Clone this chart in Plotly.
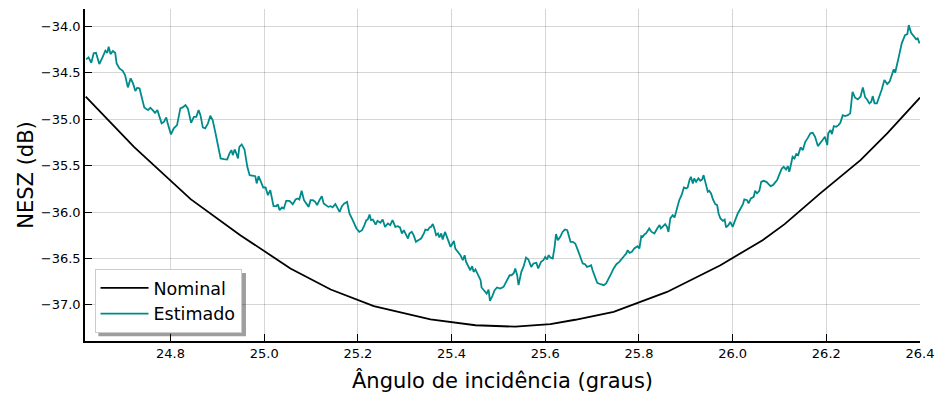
import plotly.graph_objects as go

# ---------------- data ----------------
nominal_angle = [24.619, 24.722, 24.843, 24.949, 25.056, 25.142, 25.234, 25.355,
                 25.451, 25.536, 25.611, 25.664, 25.746, 25.860, 25.974, 26.031,
                 26.064, 26.111, 26.187, 26.273, 26.330, 26.400]
nominal_nesz = [-34.755, -35.297, -35.861, -36.249, -36.608, -36.835, -37.015, -37.158,
                -37.220, -37.236, -37.209, -37.161, -37.076, -36.861, -36.573, -36.403,
                -36.303, -36.130, -35.799, -35.440, -35.152, -34.766]

estimado_angle = [
    24.620, 24.625, 24.631, 24.636, 24.641, 24.648, 24.656, 24.661, 24.665, 24.668,
    24.672, 24.677, 24.682, 24.685, 24.691, 24.698, 24.703, 24.709, 24.715, 24.720,
    24.725, 24.729, 24.734, 24.739, 24.744, 24.752, 24.757, 24.762, 24.767, 24.772,
    24.777, 24.781, 24.786, 24.791, 24.794, 24.801, 24.807, 24.814, 24.821, 24.826,
    24.832, 24.837, 24.844, 24.850, 24.855, 24.860, 24.864, 24.869, 24.874, 24.880,
    24.885, 24.890, 24.896, 24.901, 24.907, 24.914, 24.921, 24.926, 24.930, 24.933,
    24.937, 24.940, 24.944, 24.947, 24.952, 24.958, 24.964, 24.969, 24.976, 24.981,
    24.984, 24.988, 24.994, 24.998, 25.003, 25.008, 25.013, 25.017, 25.020, 25.026,
    25.029, 25.033, 25.038, 25.042, 25.047, 25.054, 25.061, 25.067, 25.072, 25.075,
    25.080, 25.085, 25.090, 25.095, 25.099, 25.104, 25.109, 25.113, 25.118, 25.123,
    25.127, 25.132, 25.137, 25.142, 25.146, 25.152, 25.156, 25.161, 25.166, 25.171,
    25.177, 25.182, 25.189, 25.197, 25.203, 25.209, 25.214, 25.218, 25.221, 25.225,
    25.228, 25.232, 25.238, 25.242, 25.248, 25.253, 25.258, 25.264, 25.269, 25.274,
    25.280, 25.285, 25.290, 25.294, 25.298, 25.303, 25.307, 25.310, 25.315, 25.319,
    25.324, 25.329, 25.335, 25.341, 25.344, 25.349, 25.353, 25.356, 25.360, 25.364,
    25.367, 25.371, 25.374, 25.378, 25.381, 25.386, 25.390, 25.393, 25.398, 25.402,
    25.405, 25.408, 25.413, 25.419, 25.424, 25.428, 25.431, 25.437, 25.440, 25.444,
    25.447, 25.451, 25.456, 25.462, 25.464, 25.470, 25.475, 25.479, 25.482, 25.487,
    25.492, 25.497, 25.504, 25.511, 25.519, 25.524, 25.528, 25.533, 25.536, 25.540,
    25.543, 25.549, 25.554, 25.559, 25.564, 25.570, 25.575, 25.581, 25.585, 25.591,
    25.596, 25.600, 25.604, 25.607, 25.611, 25.616, 25.620, 25.623, 25.627, 25.632,
    25.637, 25.642, 25.647, 25.650, 25.654, 25.659, 25.664, 25.669, 25.675, 25.680,
    25.685, 25.689, 25.694, 25.698, 25.701, 25.705, 25.711, 25.718, 25.725, 25.730,
    25.735, 25.741, 25.746, 25.752, 25.758, 25.763, 25.768, 25.773, 25.776, 25.780,
    25.785, 25.790, 25.794, 25.797, 25.801, 25.805, 25.808, 25.812, 25.815, 25.822,
    25.827, 25.833, 25.839, 25.844, 25.847, 25.851, 25.856, 25.860, 25.863, 25.867,
    25.872, 25.876, 25.879, 25.883, 25.886, 25.891, 25.896, 25.901, 25.904, 25.908,
    25.911, 25.915, 25.918, 25.922, 25.927, 25.931, 25.935, 25.938, 25.942, 25.947,
    25.950, 25.954, 25.958, 25.963, 25.967, 25.970, 25.974, 25.979, 25.983, 25.986,
    25.991, 25.995, 26.000, 26.005, 26.011, 26.017, 26.022, 26.025, 26.031, 26.034,
    26.039, 26.045, 26.048, 26.052, 26.057, 26.061, 26.066, 26.072, 26.076, 26.081,
    26.086, 26.091, 26.095, 26.100, 26.105, 26.109, 26.114, 26.118, 26.121, 26.125,
    26.128, 26.132, 26.136, 26.140, 26.145, 26.150, 26.155, 26.160, 26.166, 26.171,
    26.176, 26.182, 26.187, 26.192, 26.197, 26.202, 26.204, 26.209, 26.212, 26.216,
    26.221, 26.226, 26.230, 26.235, 26.240, 26.246, 26.251, 26.256, 26.261, 26.267,
    26.273, 26.278, 26.283, 26.287, 26.292, 26.296, 26.299, 26.303, 26.308, 26.313,
    26.318, 26.324, 26.330, 26.335, 26.340, 26.344, 26.347, 26.352, 26.356, 26.361,
    26.365, 26.368, 26.373, 26.376, 26.381, 26.387, 26.392, 26.395, 26.399,
]
estimado_nesz = [
    -34.354, -34.332, -34.390, -34.289, -34.283, -34.405, -34.318, -34.261, -34.283, -34.218,
    -34.297, -34.264, -34.283, -34.397, -34.451, -34.477, -34.523, -34.656, -34.559, -34.613,
    -34.696, -34.660, -34.667, -34.775, -34.872, -34.901, -34.876, -34.901, -34.930, -34.901,
    -34.990, -35.044, -35.027, -34.979, -35.044, -35.163, -35.098, -35.063, -34.882, -34.872,
    -34.847, -34.882, -35.038, -34.973, -34.973, -34.901, -34.955, -35.087, -35.098, -35.044,
    -34.962, -35.009, -35.146, -35.260, -35.422, -35.429, -35.433, -35.368, -35.332, -35.386,
    -35.325, -35.361, -35.422, -35.297, -35.271, -35.325, -35.512, -35.602, -35.613, -35.613,
    -35.691, -35.613, -35.685, -35.735, -35.735, -35.818, -35.764, -35.853, -35.936, -35.936,
    -35.915, -35.979, -35.950, -35.961, -35.879, -35.879, -35.915, -35.864, -35.853, -35.864,
    -35.771, -35.872, -35.907, -35.944, -35.872, -35.872, -35.890, -35.925, -35.872, -35.828,
    -35.907, -35.925, -35.944, -35.936, -35.950, -35.915, -35.950, -35.998, -35.936, -35.907,
    -35.890, -36.015, -36.087, -36.177, -36.214, -36.195, -36.141, -36.087, -36.080, -36.026,
    -36.087, -36.080, -36.134, -36.095, -36.116, -36.080, -36.160, -36.123, -36.141, -36.087,
    -36.160, -36.152, -36.166, -36.231, -36.195, -36.238, -36.285, -36.231, -36.214, -36.249,
    -36.321, -36.303, -36.285, -36.231, -36.188, -36.195, -36.166, -36.160, -36.130, -36.188,
    -36.249, -36.231, -36.274, -36.231, -36.296, -36.214, -36.268, -36.314, -36.375, -36.339,
    -36.311, -36.393, -36.429, -36.465, -36.519, -36.465, -36.537, -36.598, -36.627, -36.583,
    -36.645, -36.619, -36.681, -36.734, -36.813, -36.850, -36.878, -36.835, -36.958, -36.907,
    -36.842, -36.813, -36.824, -36.807, -36.734, -36.681, -36.681, -36.656, -36.608, -36.681,
    -36.788, -36.645, -36.583, -36.490, -36.511, -36.591, -36.554, -36.548, -36.608, -36.537,
    -36.519, -36.483, -36.511, -36.465, -36.490, -36.500, -36.375, -36.238, -36.303, -36.267,
    -36.214, -36.188, -36.195, -36.260, -36.321, -36.321, -36.339, -36.403, -36.500, -36.554,
    -36.562, -36.591, -36.583, -36.573, -36.627, -36.681, -36.764, -36.778, -36.788, -36.770,
    -36.727, -36.662, -36.608, -36.562, -36.537, -36.500, -36.476, -36.446, -36.411, -36.440,
    -36.429, -36.393, -36.382, -36.368, -36.393, -36.260, -36.267, -36.238, -36.231, -36.177,
    -36.214, -36.231, -36.177, -36.141, -36.177, -36.152, -36.130, -36.160, -36.214, -36.069,
    -36.033, -36.058, -35.998, -35.925, -35.872, -35.818, -35.735, -35.745, -35.735, -35.656,
    -35.620, -35.691, -35.637, -35.674, -35.637, -35.663, -35.648, -35.602, -35.674, -35.782,
    -35.771, -35.799, -35.864, -35.915, -35.925, -36.015, -36.069, -36.095, -36.080, -36.166,
    -36.141, -36.106, -36.160, -36.095, -36.015, -35.961, -35.915, -35.864, -35.872, -35.907,
    -35.853, -35.836, -35.771, -35.799, -35.771, -35.674, -35.663, -35.674, -35.691, -35.720,
    -35.710, -35.685, -35.656, -35.591, -35.530, -35.512, -35.540, -35.505, -35.566, -35.476,
    -35.404, -35.422, -35.375, -35.386, -35.303, -35.332, -35.243, -35.206, -35.152, -35.146,
    -35.189, -35.289, -35.260, -35.224, -35.189, -35.278, -35.152, -35.116, -35.160, -35.073,
    -35.081, -35.063, -35.038, -34.955, -34.966, -34.955, -34.936, -34.703, -34.764, -34.786,
    -34.757, -34.656, -34.764, -34.786, -34.828, -34.811, -34.750, -34.828, -34.828, -34.764,
    -34.685, -34.577, -34.620, -34.595, -34.512, -34.462, -34.498, -34.397, -34.297, -34.181,
    -34.138, -34.092, -34.081, -33.984, -34.067, -34.110, -34.138, -34.127, -34.181,
]

x_ticks = [24.8, 25.0, 25.2, 25.4, 25.6, 25.8, 26.0, 26.2, 26.4]
y_ticks = [-34.0, -34.5, -35.0, -35.5, -36.0, -36.5, -37.0]

series_names = ["Nominal", "Estimado"]
x_title = "Ângulo de incidência (graus)"
y_title = "NESZ (dB)"

# ---------------- figure ----------------
FONT = "DejaVu Sans"
fig = go.Figure()
fig.add_trace(go.Scatter(x=nominal_angle, y=nominal_nesz, mode="lines",
                         name=series_names[0],
                         line=dict(color="black", width=1.8)))
fig.add_trace(go.Scatter(x=estimado_angle, y=estimado_nesz, mode="lines",
                         name=series_names[1],
                         line=dict(color="#008B8B", width=1.8)))

grid = "rgba(0,0,0,0.16)"
fig.update_xaxes(range=[24.6175, 26.4], tickvals=x_ticks, tickformat=".1f",
                 ticks="inside", ticklen=7, tickwidth=1.3, tickcolor="black",
                 showline=True, linecolor="black", linewidth=1.5, mirror=False,
                 showgrid=True, gridcolor=grid, gridwidth=1, zeroline=False,
                 automargin=False, ticklabeloverflow="allow", ticklabelstandoff=0,
                 tickfont=dict(size=13, color="black", family=FONT),
                 title=dict(text=x_title, font=dict(size=21, color="black", family=FONT),
                            standoff=13))
fig.update_yaxes(range=[-37.39, -33.811], tickvals=y_ticks, tickformat=".1f",
                 ticks="inside", ticklen=7, tickwidth=1.3, tickcolor="black",
                 showline=True, linecolor="black", linewidth=1.5, mirror=False,
                 showgrid=True, gridcolor=grid, gridwidth=1, zeroline=False,
                 automargin=False, ticklabeloverflow="allow", ticklabelstandoff=0,
                 tickfont=dict(size=13, color="black", family=FONT),
                 title=dict(text=y_title, font=dict(size=21, color="black", family=FONT),
                            standoff=1))

# legend drop shadow
fig.add_shape(type="rect", xref="paper", yref="paper",
              x0=0.0160, x1=0.1928, y0=0.0140, y1=0.2050,
              fillcolor="rgba(0,0,0,0.38)", line=dict(width=0), layer="above")

fig.update_layout(
    width=936, height=394,
    margin=dict(l=85, r=16, t=9, b=53),
    plot_bgcolor="white", paper_bgcolor="white",
    font=dict(family=FONT, color="black"),
    showlegend=True,
    legend=dict(x=0.0114, y=0.024, xanchor="left", yanchor="bottom",
                bgcolor="white", bordercolor="#cccccc", borderwidth=1,
                itemwidth=48,
                font=dict(size=17.5, family=FONT, color="black")),
)

# remove the default page margin so the figure sits at the window's corner
fig.write_html("out.html",
               config={"displayModeBar": False},
               post_script="document.body.style.margin='0';"
                           "document.body.style.overflow='hidden';")
